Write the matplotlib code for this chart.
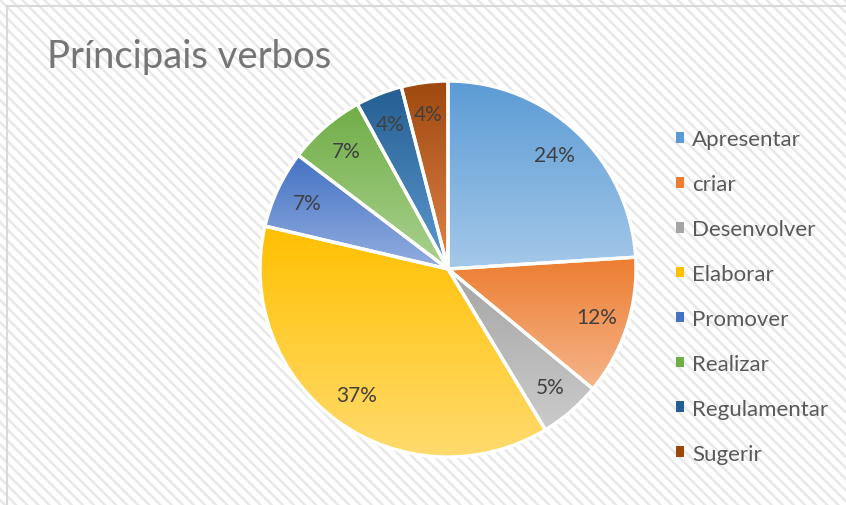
import numpy as np
import matplotlib
matplotlib.use("Agg")
import matplotlib.pyplot as plt
from matplotlib.colors import to_rgb
from matplotlib.patches import Patch, Rectangle
from matplotlib.lines import Line2D

categories = ["Apresentar", "criar", "Desenvolver", "Elaborar", "Promover",
              "Realizar", "Regulamentar", "Sugerir"]
values = [18, 9, 4, 28, 5, 5, 3, 3]
title = "Príncipais verbos"

dark = ["#5B9BD5", "#ED7D31", "#A5A5A5", "#FFC000", "#4472C4", "#70AD47", "#255E91", "#9E480E"]
light = ["#A4C8E9", "#F5B58A", "#CBCBCB", "#FFDB6E", "#93AEE0", "#AAD28F", "#5E9AD2", "#E2844A"]

plt.rcParams['font.family'] = ['Lato', 'DejaVu Sans']
plt.rcParams['hatch.linewidth'] = 1.8
plt.rcParams['hatch.color'] = '#E8E8E8'

W, H = 846, 506
fig = plt.figure(figsize=(W / 100, H / 100), dpi=100)
fig.patch.set_facecolor('white')

# hatched background
bg = Rectangle((0, 0), 1, 1, transform=fig.transFigure, facecolor='white',
               edgecolor='#E8E8E8', hatch='\\' * 3, linewidth=0, zorder=-10)
fig.add_artist(bg)
# frame lines (top and left)
fig.add_artist(Line2D([7 / W, 7 / W], [0, 1 - 7 / H], transform=fig.transFigure,
                      color='#D9D9D9', lw=1.5))
fig.add_artist(Line2D([7 / W, 1], [1 - 7 / H, 1 - 7 / H], transform=fig.transFigure,
                      color='#D9D9D9', lw=1.5))

# pie axes
cx, cy, R = 448, 270, 188
half = 195
ax = fig.add_axes([(cx - half) / W, (H - cy - half) / H, 2 * half / W, 2 * half / H])
ax.set_xlim(-half / R, half / R)
ax.set_ylim(-half / R, half / R)
ax.set_aspect('equal')
ax.axis('off')
ax.patch.set_alpha(0)

wedges, texts, autotexts = ax.pie(
    values, startangle=90, counterclock=False, radius=1.0,
    autopct='%1.0f%%', pctdistance=0.83,
    colors=dark,
    wedgeprops=dict(edgecolor='white', linewidth=2.4),
    textprops=dict(color='#404040', fontsize=15))

for w, c1, c2 in zip(wedges, dark, light):
    v = w.get_path().vertices
    xmin, xmax = v[:, 0].min(), v[:, 0].max()
    ymin, ymax = v[:, 1].min(), v[:, 1].max()
    a = np.array(to_rgb(c2))
    b = np.array(to_rgb(c1))
    t = np.linspace(0, 1, 256)[:, None]
    grad = (a * (1 - t) + b * t)[:, None, :]
    im = ax.imshow(grad, extent=(xmin, xmax, ymin, ymax), origin='lower',
                   aspect='auto', interpolation='bilinear', zorder=1)
    im.set_clip_path(w)
    w.set_facecolor('none')
    w.set_zorder(2)
for t_ in autotexts:
    t_.set_zorder(3)
ax.set_xlim(-half / R, half / R)
ax.set_ylim(-half / R, half / R)

fig.text(47 / W, 1 - 68 / H, title, fontsize=27.5, color='#757575',
         ha='left', va='baseline')

handles = [Patch(facecolor=c, edgecolor='none') for c in dark]
fig.legend(handles, categories, loc='center left',
           bbox_to_anchor=(676 / W, (H - 297.5) / H), frameon=False,
           fontsize=16, labelcolor='#595959', handlelength=0.36, handleheight=0.36,
           handletextpad=0.36, labelspacing=1.12, borderpad=0, borderaxespad=0)

fig.savefig('out.png', dpi=100, facecolor=fig.get_facecolor())
